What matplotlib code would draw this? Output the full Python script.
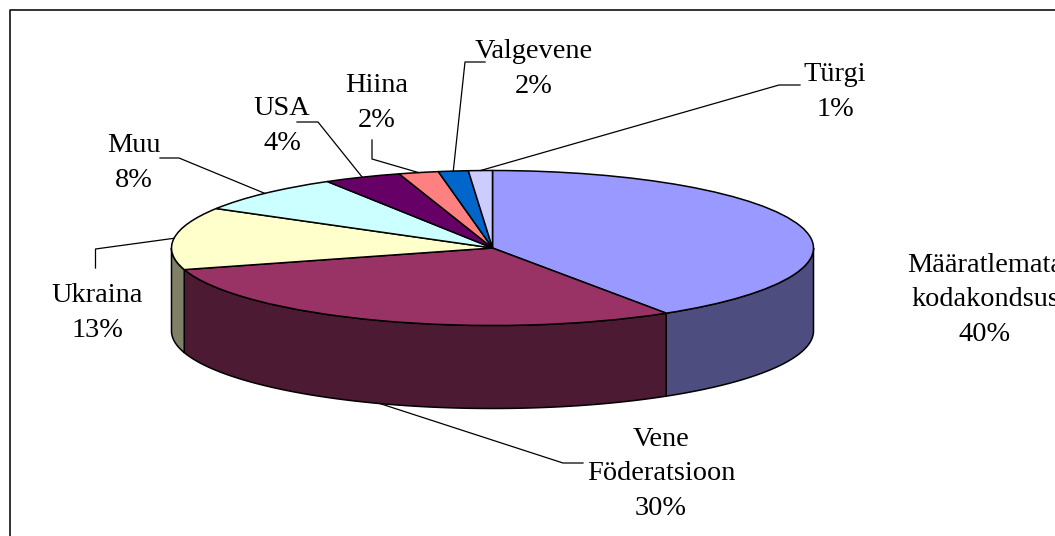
import numpy as np
import matplotlib as mpl
mpl.use('agg')
import matplotlib.pyplot as plt
from matplotlib.patches import Polygon

plt.rcParams['font.family'] = ['Liberation Serif', 'DejaVu Serif']

names = ["Määratlemata\nkodakondsus", "Vene\nFöderatsioon", "Ukraina", "Muu",
         "USA", "Hiina", "Valgevene", "Türgi"]
shares = [40.9, 29.6, 13.0, 7.9, 3.9, 2.0, 1.5, 1.2]
percent_labels = ["40%", "30%", "13%", "8%", "4%", "2%", "2%", "1%"]
top_colors = ["#9999FF", "#993366", "#FFFFCC", "#CCFFFF",
              "#660066", "#FF8080", "#0066CC", "#CCCCFF"]
side_colors = ["#4D4D80", "#4D1A33", "#808066", "#668080",
               "#330033", "#804040", "#003366", "#666680"]

W, H = 1055, 536
fig = plt.figure(figsize=(W / 100, H / 100), dpi=100, facecolor="white")

# overlay in pixel coords for frame, labels and leaders
over = fig.add_axes([0, 0, 1, 1], zorder=3)
over.set_xlim(0, W)
over.set_ylim(H, 0)
over.axis("off")
over.patch.set_alpha(0)

# pie ellipse on screen
cx, cy, rx, ry, depth = 492.5, 248, 321, 77.5, 83
ax = fig.add_axes([(cx - rx) / W, 1 - (cy + ry) / H, 2 * rx / W, 2 * ry / H], zorder=2)
ax.pie(shares, colors=top_colors, startangle=90, counterclock=False, radius=1,
       wedgeprops=dict(edgecolor="black", linewidth=1.1, zorder=3))
ax.set_aspect("auto")
ax.set_xlim(-1, 1)
ax.set_ylim(-1, 1)
ax.axis("off")
for p in ax.patches:
    p.set_clip_on(False)

# side wall, front half only (clockwise angle from the top)
d = depth / ry
edges = np.cumsum([0] + shares) / sum(shares) * 360
for a0, a1, col in zip(edges[:-1], edges[1:], side_colors):
    lo, hi = max(a0, 90), min(a1, 270)
    if lo >= hi:
        continue
    t = np.radians(np.linspace(lo, hi, 80))
    xs, ys = np.sin(t), np.cos(t)
    pts = np.r_[np.c_[xs, ys], np.c_[xs, ys - d][::-1]]
    ax.add_patch(Polygon(pts, closed=True, facecolor=col, edgecolor="black",
                         linewidth=1.1, zorder=2, clip_on=False))

# label block centre, leader elbow points (pixels)
label_pos = [(985, 300), (661, 474), (97, 313), (134, 163), (282, 126), (377, 103), (534, 69), (835, 92)]
elbows = [None,
          [(563, 463), (583, 463)],
          [(95.5, 249), (95.5, 268)],
          [(179, 158), (160, 158)],
          [(318, 122), (297, 122)],
          [(372, 159), (372, 140)],
          [(465, 62), (485, 62)],
          [(779, 85), (800, 85)]]
mids = (edges[:-1] + edges[1:]) / 2
for i, (name, pct) in enumerate(zip(names, percent_labels)):
    x, y = label_pos[i]
    over.text(x, y, name + "\n" + pct, ha="center", va="center", fontsize=20.4,
              linespacing=1.49, color="black", clip_on=True)
    if elbows[i] is None:
        continue
    t = np.radians(mids[i])
    sx = cx + rx * np.sin(t)
    sy = cy - ry * np.cos(t)
    if 90 < mids[i] < 270:
        sy += depth
    pts = [(sx, sy)] + elbows[i]
    over.plot([p[0] for p in pts], [p[1] for p in pts], color="black", lw=0.9)

# chart border, right and bottom run off the image
over.plot([9.5, 9.5, W], [H, 10, 10], color="#222222", lw=1.3, clip_on=False)

fig.savefig("out.png", dpi=100)
